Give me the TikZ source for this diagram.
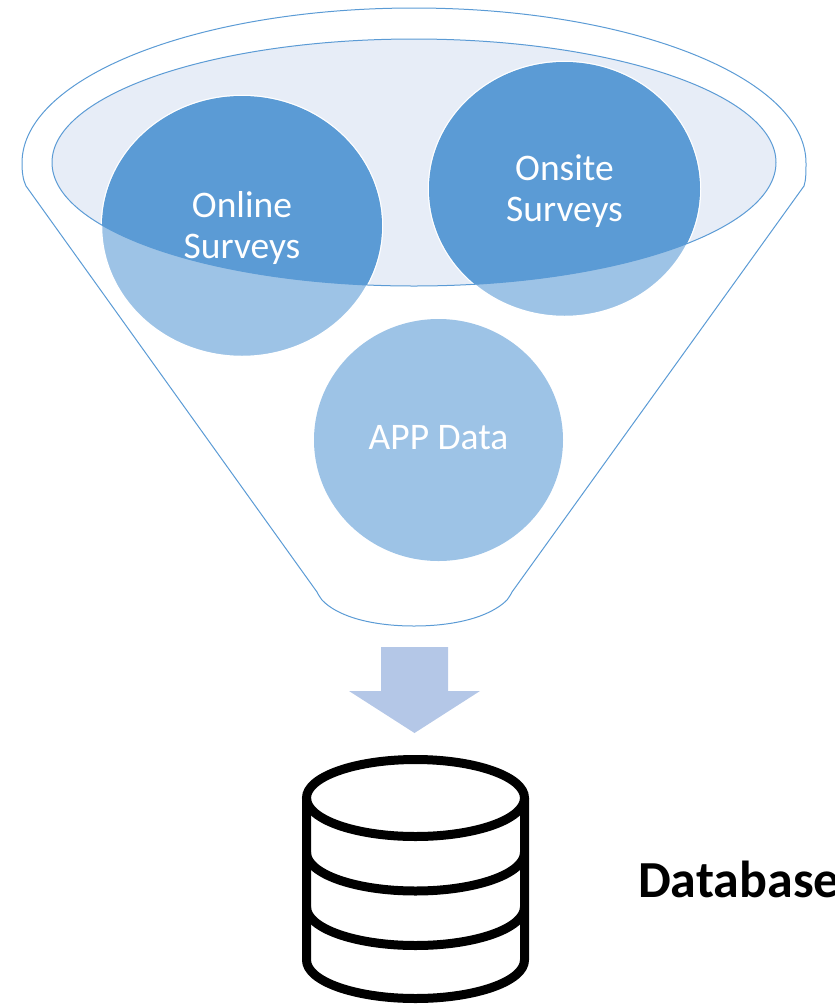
\documentclass[tikz,border=0pt]{standalone}
\usepackage{fontspec}
\setmainfont{Carlito}
\usetikzlibrary{shapes.geometric}
\definecolor{funnelblue}{HTML}{5B9BD5}
\definecolor{lightblue}{HTML}{9DC3E6}
\definecolor{paleblue}{HTML}{E7EDF7}
\definecolor{arrowblue}{HTML}{B4C7E7}
\begin{document}
\begin{tikzpicture}[x=1pt,y=-1pt,
        source/.style = {ellipse,
            inner sep = 0pt,
            draw = white,
            line width = 1.5pt,
            fill = lightblue
            },
        sourcetext/.style = {align = center,
            text = white,
            font = \fontsize{37.5}{41}\selectfont
            }]
    \useasboundingbox (0,0) rectangle (835,1005);

    % Funnel
    \draw[funnelblue, line width=1pt] (22,163) arc[start angle=180, end angle=0, x radius=392pt, y radius=155pt]
        .. controls (806,172) and (806,180) .. (804,186) -- (512,592)
        .. controls (510,596) and (509,597) .. (507,600)
        .. controls (490,617) and (455,626) .. (414,626)
        .. controls (373,626) and (338,617) .. (322,600)
        .. controls (320,597) and (319,596) .. (317,592) -- (26,186)
        .. controls (23,180) and (22,172) .. (22,163);

    % Inner ellipse
    \node[ellipse, fill=paleblue, inner sep=0pt, minimum width=724pt, minimum height=247pt] (rim) at (414,162.5) {};

    % Sources
    \node[source, minimum width=281pt, minimum height=261pt] (online) at (242,226) {};
    \node[source, minimum width=272pt, minimum height=255pt] (onsite) at (564.5,189) {};
    \node[source, minimum width=249pt, minimum height=242pt, draw=none] (app) at (438.5,440) {};

    % Overlap
    \begin{scope}
        \clip (414,162.5) ellipse[x radius=362pt, y radius=123.5pt];
        \fill[funnelblue] (242,226) ellipse[x radius=140pt, y radius=130pt];
        \fill[funnelblue] (564.5,189) ellipse[x radius=135.5pt, y radius=127pt];
    \end{scope}

    % Rim outline
    \draw[funnelblue, line width=1pt] (414,162.5) ellipse[x radius=362pt, y radius=123.5pt];

    % Labels
    \node[sourcetext] (onlinetext) at (242,228) {Online\\Surveys};
    \node[sourcetext] (onsitetext) at (564.5,191) {Onsite\\Surveys};
    \node[sourcetext] (apptext) at (438.5,438) {APP Data};

    % Arrow
    \fill[arrowblue] (381,647) -- (448,647) -- (448,691) -- (480,691) -- (414.5,733) -- (349,691) -- (381,691) -- cycle;

    % Database
    \draw[line width=9pt, line join=round] (306.5,798) -- (306.5,960) arc[start angle=180, end angle=360, x radius=109pt, y radius=38.5pt] -- (524.5,798);
    \draw[line width=9pt] (415.5,798) ellipse[x radius=109pt, y radius=38.5pt];
    \foreach \y in {852.5,907} {
        \draw[line width=9pt] (306.5,\y) arc[start angle=180, end angle=360, x radius=109pt, y radius=38.5pt];
    }
    \node[anchor=base west, inner sep=0pt, font=\fontsize{52}{58}\selectfont\bfseries] (dbtext) at (638,897) {Database};

\end{tikzpicture}
\end{document}
